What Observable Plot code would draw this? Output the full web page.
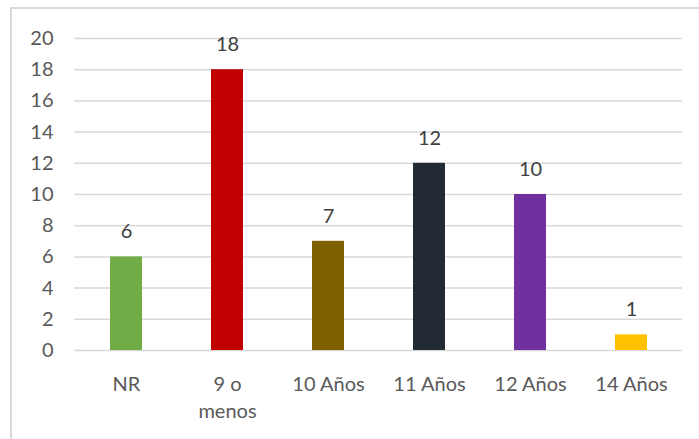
<!DOCTYPE html>
<html>
<head>
<meta charset="utf-8">
<script src="https://cdn.jsdelivr.net/npm/d3@7"></script>
<script src="https://cdn.jsdelivr.net/npm/@observablehq/plot@0.6"></script>
<style>
  html, body { margin: 0; padding: 0; background: #fff; overflow: hidden; width: 699px; height: 439px; }
  #wrap { position: relative; width: 699px; height: 439px; }
  #border { position: absolute; left: 10px; top: 7px; width: 720px; height: 460px; border: 2px solid #D9D9D9; box-sizing: border-box; }
  #chart { position: absolute; left: 0; top: 0; }
</style>
</head>
<body>
<div id="wrap"><div id="border"></div><div id="chart"></div></div>
<script>
const categories = ["NR", "9 o menos", "10 Años", "11 Años", "12 Años", "14 Años"];
const tickLabels = ["NR", "9 o\nmenos", "10 Años", "11 Años", "12 Años", "14 Años"];
const values = [6, 18, 7, 12, 10, 1];
const colors = ["#70AD47", "#C00000", "#7F6000", "#222A35", "#7030A0", "#FFC000"];
const yTicks = [0, 2, 4, 6, 8, 10, 12, 14, 16, 18, 20];

const data = categories.map((c, i) => ({cat: c, value: values[i], color: colors[i]}));
const labelOf = new Map(categories.map((c, i) => [c, tickLabels[i]]));

const chart = Plot.plot({
  width: 699,
  height: 439,
  marginLeft: 74,
  marginRight: 17,
  marginTop: 38,
  marginBottom: 89,
  style: {fontFamily: "Lato, 'Open Sans', sans-serif", fontSize: "20px", color: "#595959", background: "transparent"},
  x: {domain: categories, paddingInner: 0.684, paddingOuter: 0.342, label: null},
  y: {domain: [0, 20], label: null},
  marks: [
    Plot.gridY(yTicks, {stroke: "#D9D9D9", strokeOpacity: 1, strokeWidth: 1.5}),
    Plot.axisY(yTicks, {tickSize: 0, tickPadding: 21, label: null, fill: "#595959", fontSize: 20}),
    Plot.axisX({tickSize: 0, tickPadding: 21, label: null, tickFormat: d => labelOf.get(d), lineHeight: 1.35, fill: "#595959", fontSize: 20}),
    Plot.barY(data, {x: "cat", y: "value", fill: "color"}),
    Plot.text(data, {x: "cat", y: "value", text: d => String(d.value), dy: -25, fill: "#404040", fontSize: 20})
  ]
});
document.getElementById("chart").appendChild(chart);
</script>
</body>
</html>
